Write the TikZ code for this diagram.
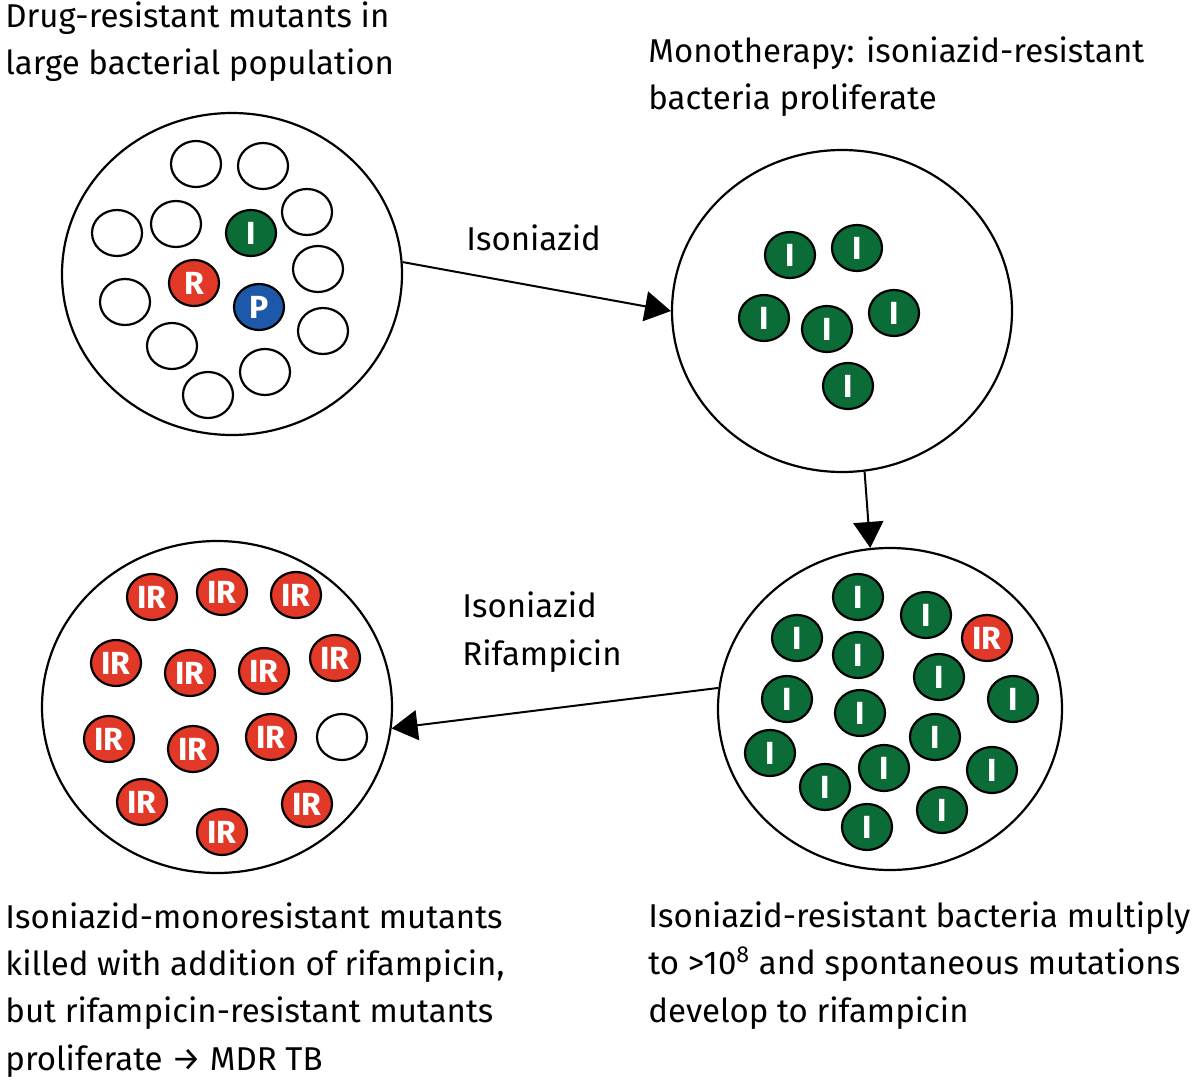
\documentclass[tikz,border=0pt]{standalone}
\usepackage{fontspec}
\setmainfont{Fira Sans}
\usetikzlibrary{shapes.geometric,arrows.meta}
\definecolor{bgreen}{RGB}{12,108,56}
\definecolor{bred}{RGB}{226,56,40}
\definecolor{bblue}{RGB}{30,88,168}
\begin{document}
\begin{tikzpicture}[x=0.5pt,y=-0.5pt,
  pop/.style={draw, line width=1.1pt, ellipse, inner sep=0pt},
  cell/.style={draw, line width=1.1pt, ellipse, minimum width=25pt, minimum height=23pt, inner sep=0pt, text=white, font=\bfseries\fontsize{16}{16}\selectfont},
  emptycell/.style={cell, fill=white},
  icell/.style={cell, fill=bgreen},
  rcell/.style={cell, fill=bred},
  pcell/.style={cell, fill=bblue},
  arr/.style={line width=1pt, -{Triangle[length=13pt,width=15pt]}},
  lab/.style={anchor=base west, align=left, inner sep=0pt, font=\fontsize{16.5}{23.6}\selectfont}
]
\useasboundingbox (0,0) rectangle (1200,1081);

% population circles
\node[pop, minimum width=170pt, minimum height=161pt] (c1) at (232,274) {};
\node[pop, minimum width=170pt, minimum height=161pt] (c2) at (842,311) {};
\node[pop, minimum width=172pt, minimum height=161pt] (c3) at (890,709) {};
\node[pop, minimum width=175pt, minimum height=166pt] (c4) at (217,707) {};

% circle 1 cells
\node[emptycell] (a1) at (196,164) {};
\node[emptycell] (a2) at (263,166) {};
\node[emptycell] (a3) at (307,212) {};
\node[emptycell] (a4) at (176,224) {};
\node[emptycell] (a5) at (117,233) {};
\node[emptycell] (a6) at (318,269) {};
\node[emptycell] (a7) at (125,302) {};
\node[emptycell] (a8) at (323,331) {};
\node[emptycell] (a9) at (172,346) {};
\node[emptycell] (a10) at (265,372) {};
\node[emptycell] (a11) at (208,395) {};
\node[icell] (a12) at (251,233) {I};
\node[rcell] (a13) at (194,283) {R};
\node[pcell] (a14) at (259,307) {P};

% circle 2 cells
\node[icell] (b1) at (790,255) {I};
\node[icell] (b2) at (857,248) {I};
\node[icell] (b3) at (764,318) {I};
\node[icell] (b4) at (827,329) {I};
\node[icell] (b5) at (894,313) {I};
\node[icell] (b6) at (848,386) {I};

% circle 3 cells
\node[icell] (d1) at (858,597) {I};
\node[icell] (d2) at (926,615) {I};
\node[rcell] (d3) at (987,638) {IR};
\node[icell] (d4) at (797,638) {I};
\node[icell] (d5) at (858,655) {I};
\node[icell] (d6) at (939,677) {I};
\node[icell] (d7) at (787,699) {I};
\node[icell] (d8) at (1013,699) {I};
\node[icell] (d9) at (860,713) {I};
\node[icell] (d10) at (935,737) {I};
\node[icell] (d11) at (770,753) {I};
\node[icell] (d12) at (884,768) {I};
\node[icell] (d13) at (825,787) {I};
\node[icell] (d14) at (992,770) {I};
\node[icell] (d15) at (942,810) {I};
\node[icell] (d16) at (867,827) {I};

% circle 4 cells
\node[rcell] (e1) at (152,597) {IR};
\node[rcell] (e2) at (222,592) {IR};
\node[rcell] (e3) at (296,595) {IR};
\node[rcell] (e4) at (116,663) {IR};
\node[rcell] (e5) at (190,673) {IR};
\node[rcell] (e6) at (264,671) {IR};
\node[rcell] (e7) at (335,658) {IR};
\node[rcell] (e8) at (109,739) {IR};
\node[rcell] (e9) at (193,749) {IR};
\node[rcell] (e10) at (271,737) {IR};
\node[emptycell] (e11) at (342,737) {};
\node[rcell] (e12) at (142,802) {IR};
\node[rcell] (e13) at (222,832) {IR};
\node[rcell] (e14) at (307,804) {IR};

% arrows
\draw[arr] (c1.4) -- (c2.180);
\draw[arr] (c2.-82) -- (c3.97);
\draw[arr] (c3.173) -- (c4.-7);

% labels (base anchor = baseline of last line)
\node[lab] (t1) at (5,75) {Drug-resistant mutants in\\large bacterial population};
\node[lab] (t2) at (648,110) {Monotherapy: isoniazid-resistant\\bacteria proliferate};
\node[lab] (t3) at (466,250) {Isoniazid};
\node[lab] (t4) at (462,665) {Isoniazid\\Rifampicin};
\node[lab] (t5) at (5,1070) {Isoniazid-monoresistant mutants\\killed with addition of rifampicin,\\but rifampicin-resistant mutants\\proliferate → MDR TB};
\node[lab] (t6) at (648,1022) {Isoniazid-resistant bacteria multiply\\to >10\textsuperscript{8} and spontaneous mutations\\develop to rifampicin};
\end{tikzpicture}
\end{document}
